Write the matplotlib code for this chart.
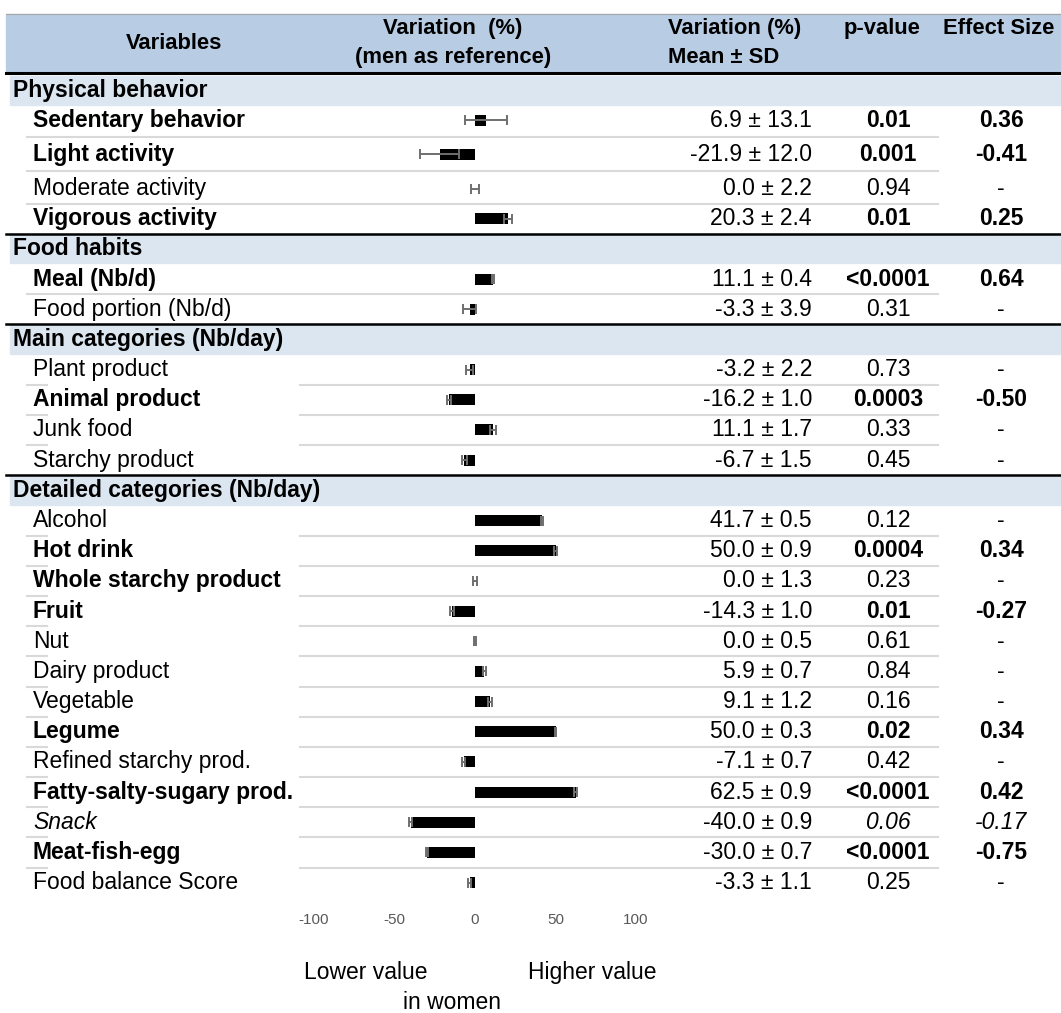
import matplotlib
matplotlib.use("Agg")
import matplotlib.pyplot as plt

plt.rcParams['font.family'] = ['Liberation Sans', 'DejaVu Sans']

# Data

sections = ["Physical behavior", "Food habits", "Main categories (Nb/day)",
            "Detailed categories (Nb/day)"]
section_sizes = [4, 2, 4, 13]
labels = ["Sedentary behavior", "Light activity", "Moderate activity", "Vigorous activity",
          "Meal (Nb/d)", "Food portion (Nb/d)",
          "Plant product", "Animal product", "Junk food", "Starchy product",
          "Alcohol", "Hot drink", "Whole starchy product", "Fruit", "Nut", "Dairy product",
          "Vegetable", "Legume", "Refined starchy prod.", "Fatty-salty-sugary prod.",
          "Snack", "Meat-fish-egg", "Food balance Score"]
means = [6.9, -21.9, 0.0, 20.3,
         11.1, -3.3,
         -3.2, -16.2, 11.1, -6.7,
         41.7, 50.0, 0.0, -14.3, 0.0, 5.9, 9.1, 50.0, -7.1, 62.5, -40.0, -30.0, -3.3]
sds = [13.1, 12.0, 2.2, 2.4,
       0.4, 3.9,
       2.2, 1.0, 1.7, 1.5,
       0.5, 0.9, 1.3, 1.0, 0.5, 0.7, 1.2, 0.3, 0.7, 0.9, 0.9, 0.7, 1.1]
pvalues = ["0.01", "0.001", "0.94", "0.01",
           "<0.0001", "0.31",
           "0.73", "0.0003", "0.33", "0.45",
           "0.12", "0.0004", "0.23", "0.01", "0.61", "0.84", "0.16", "0.02", "0.42",
           "<0.0001", "0.06", "<0.0001", "0.25"]
effects = ["0.36", "-0.41", "-", "0.25",
           "0.64", "-",
           "-", "-0.50", "-", "-",
           "-", "0.34", "-", "-0.27", "-", "-", "-", "0.34", "-", "0.42", "-0.17", "-0.75", "-"]
# b = bold, n = normal, i = italic
label_style = "bbnb" + "bn" + "nbnn" + "nbbbnnnbnbibn"
stat_style = "bbnb" + "bn" + "nbnn" + "nbnbnnnbnbibn"
ticks = [-100, -50, 0, 50, 100]

# Layout (pixels)

W, H = 1061, 1013
FS = 16.5
header_blue = '#b8cce4'
section_blue = '#dce6f1'
sep_grey = '#d9d9d9'


def style_kw(c):
    if c == 'b':
        return dict(fontweight='bold')
    if c == 'i':
        return dict(fontstyle='italic')
    return {}


fig = plt.figure(figsize=(W / 100, H / 100), dpi=100)
ax = fig.add_axes([0, 0, 1, 1])
ax.set_xlim(0, W)
ax.set_ylim(H, 0)
ax.axis('off')

# header
ax.add_patch(plt.Rectangle((6, 14), W - 6, 59, color=header_blue, zorder=0))
ax.plot([6, W], [14, 14], color='#a6a6a6', lw=0.8)
hfont = dict(fontweight='bold', fontsize=15.8, va='center')
ax.text(174, 43, "Variables", ha='center', **hfont)
ax.text(453, 28, "Variation  (%)", ha='center', **hfont)
ax.text(453, 57, "(men as reference)", ha='center', **hfont)
ax.text(668, 28, "Variation (%)", ha='left', **hfont)
ax.text(668, 57, "Mean \u00b1 SD", ha='left', **hfont)
ax.text(882, 28, "p-value", ha='center', **hfont)
ax.text(943, 28, "Effect Size", ha='left', **hfont)
ax.plot([6, W], [73, 73], color='black', lw=2.2)

# rows
tall_rows = {"Light activity", "Moderate activity"}
step = 30.18
y = 90
row_y = []
idx = 0
for s, (name, size) in enumerate(zip(sections, section_sizes)):
    if s > 0:
        y += step
        ax.plot([6, W], [y - step / 2, y - step / 2], color='black', lw=1.8, zorder=3)
    ax.add_patch(plt.Rectangle((10, y - 14.5), W - 10, 29, color=section_blue, zorder=0))
    ax.text(13, y, name, fontsize=FS, fontweight='bold', va='center')
    for k in range(size):
        prev = y
        y += step + (4 if labels[idx] in tall_rows else 0)
        row_y.append(y)
        if k > 0:
            ly = (prev + y) / 2
            if s >= 2:
                ax.plot([27, 47], [ly, ly], color=sep_grey, lw=1.5, zorder=1)
                ax.plot([300, 938], [ly, ly], color=sep_grey, lw=1.5, zorder=1)
            else:
                ax.plot([27, 938], [ly, ly], color=sep_grey, lw=1.5, zorder=1)
        idx += 1

for i, yy in enumerate(row_y):
    ax.text(33, yy, labels[i], fontsize=FS, va='center', **style_kw(label_style[i]))
    ax.text(812, yy, f"{means[i]:.1f} \u00b1 {sds[i]:.1f}", fontsize=FS, va='center', ha='right')
    ax.text(888, yy, pvalues[i], fontsize=FS, va='center', ha='center', **style_kw(stat_style[i]))
    ax.text(1001, yy, effects[i], fontsize=FS, va='center', ha='center', **style_kw(stat_style[i]))

# bottom legend text
ax.text(304, 972, "Lower value", fontsize=FS, va='center')
ax.text(528, 972, "Higher value", fontsize=FS, va='center')
ax.text(403, 1002, "in women", fontsize=FS, va='center')

# bar chart axes: -100..100 over pixels 314..636, y in pixel rows 0..905
bx = fig.add_axes([314 / W, (H - 905) / H, 322 / W, 905 / H])
bx.set_xlim(-100, 100)
bx.set_ylim(905, 0)
bx.patch.set_alpha(0)
for sp in bx.spines.values():
    sp.set_visible(False)
bx.barh(row_y, means, height=11, color='black', linewidth=0)
bx.errorbar(means, row_y, xerr=sds, fmt='none', ecolor='#6f6f6f', elinewidth=1.4,
            capsize=3.5, capthick=1.4)
bx.set_yticks([])
bx.set_xticks(ticks)
bx.set_xticklabels([str(t) for t in ticks])
bx.tick_params(axis='x', length=0, pad=6, labelsize=11, labelcolor='#595959')

fig.savefig("out.png", dpi=100)
